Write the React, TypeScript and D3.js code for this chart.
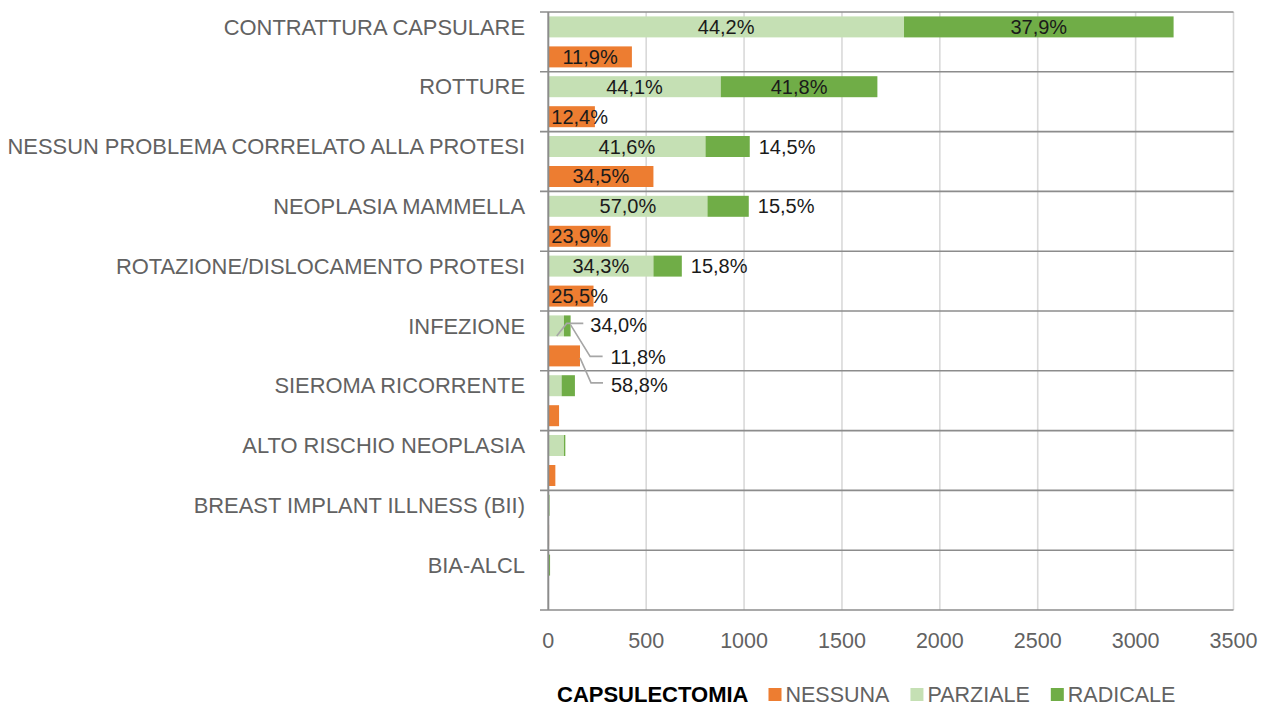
import React, { useEffect, useRef } from "react";
import * as d3 from "d3";

const categories = [
  "CONTRATTURA CAPSULARE",
  "ROTTURE",
  "NESSUN PROBLEMA CORRELATO ALLA PROTESI",
  "NEOPLASIA MAMMELLA",
  "ROTAZIONE/DISLOCAMENTO PROTESI",
  "INFEZIONE",
  "SIEROMA RICORRENTE",
  "ALTO RISCHIO NEOPLASIA",
  "BREAST IMPLANT ILLNESS (BII)",
  "BIA-ALCL",
];
const nessuna = [427, 238, 537, 318, 231, 162, 55, 36, 4, 3];
const parziale = [1817, 881, 803, 813, 537, 80, 68, 80, 6, 3];
const radicale = [1377, 800, 226, 211, 145, 34, 68, 7, 2, 6];

const nessunaLabels = ["11,9%", "12,4%", "34,5%", "23,9%", "25,5%", "58,8%", "", "", "", ""];
const parzialeLabels = ["44,2%", "44,1%", "41,6%", "57,0%", "34,3%", "34,0%", "", "", "", ""];
const radicaleLabels = ["37,9%", "41,8%", "14,5%", "15,5%", "15,8%", "11,8%", "", "", "", ""];
// placement of radicale labels: "in" = centred, "out" = right of bar, "leader" = callout
const radicalePlacement = ["in", "in", "out", "out", "out", "leader", "", "", "", ""];

const xTicks = [0, 500, 1000, 1500, 2000, 2500, 3000, 3500];
const legendTitle = "CAPSULECTOMIA";
const legendItems = ["NESSUNA", "PARZIALE", "RADICALE"];

const COLORS = { nessuna: "#ED7D31", parziale: "#C5E0B4", radicale: "#70AD47" };
const FONT = "'Liberation Sans', Arial, sans-serif";

export default function App() {
  const ref = useRef<SVGSVGElement | null>(null);

  useEffect(() => {
    const svg = d3.select(ref.current);
    svg.selectAll("*").remove();

    const x = d3.scaleLinear().domain([0, 3500]).range([548.3, 1233.5]);
    const y = d3.scaleBand<string>().domain(categories).range([12, 610]).padding(0);
    const sub = d3
      .scaleBand<string>()
      .domain(["stack", "nessuna"])
      .range([0, y.bandwidth()])
      .paddingInner(0.3)
      .paddingOuter(0.147);

    const x0 = x(0);

    // vertical gridlines
    svg
      .append("g")
      .selectAll("line")
      .data(xTicks.slice(1))
      .join("line")
      .attr("x1", (d) => x(d))
      .attr("x2", (d) => x(d))
      .attr("y1", 12)
      .attr("y2", 610)
      .attr("stroke", "#D9D9D9")
      .attr("stroke-width", 1.6);

    // horizontal category boundaries
    const bounds = categories.map((c) => y(c)!).concat([610]);
    svg
      .append("g")
      .selectAll("line")
      .data(bounds)
      .join("line")
      .attr("x1", 540)
      .attr("x2", x(3500))
      .attr("y1", (d) => d)
      .attr("y2", (d) => d)
      .attr("stroke", "#8C8C8C")
      .attr("stroke-width", 1.6);

    // bars
    const g = svg.append("g");
    categories.forEach((c, i) => {
      const yb = y(c)!;
      const ys = yb + sub("stack")!;
      const yn = yb + sub("nessuna")!;
      const h = sub.bandwidth();
      g.append("rect")
        .attr("x", x0)
        .attr("y", ys)
        .attr("width", x(parziale[i]) - x0)
        .attr("height", h)
        .attr("fill", COLORS.parziale);
      g.append("rect")
        .attr("x", x(parziale[i]))
        .attr("y", ys)
        .attr("width", x(parziale[i] + radicale[i]) - x(parziale[i]))
        .attr("height", h)
        .attr("fill", COLORS.radicale);
      g.append("rect")
        .attr("x", x0)
        .attr("y", yn)
        .attr("width", x(nessuna[i]) - x0)
        .attr("height", h)
        .attr("fill", COLORS.nessuna);
    });

    // left axis line
    svg
      .append("line")
      .attr("x1", x0)
      .attr("x2", x0)
      .attr("y1", 12)
      .attr("y2", 610)
      .attr("stroke", "#8C8C8C")
      .attr("stroke-width", 2);

    // category labels
    svg
      .append("g")
      .selectAll("text")
      .data(categories)
      .join("text")
      .attr("x", 525)
      .attr("y", (d) => y(d)! + sub("stack")! + sub.bandwidth() / 2)
      .attr("dy", "0.35em")
      .attr("text-anchor", "end")
      .attr("font-family", FONT)
      .attr("font-size", 21.9)
      .attr("fill", "#626262")
      .text((d) => d);

    // x tick labels
    svg
      .append("g")
      .selectAll("text")
      .data(xTicks)
      .join("text")
      .attr("x", (d) => x(d))
      .attr("y", 640)
      .attr("dy", "0.35em")
      .attr("text-anchor", "middle")
      .attr("font-family", FONT)
      .attr("font-size", 21.5)
      .attr("fill", "#626262")
      .text((d) => String(d));

    // data labels
    const lg = svg.append("g").attr("font-family", FONT).attr("font-size", 20).attr("fill", "#1a1a1a");
    const leaderStroke = "#A6A6A6";
    categories.forEach((c, i) => {
      const yb = y(c)!;
      const h = sub.bandwidth();
      const ys = yb + sub("stack")!;
      const yn = yb + sub("nessuna")!;
      const ysc = ys + h / 2;
      const ync = yn + h / 2;
      if (radicalePlacement[i] === "leader") {
        // parziale callout
        lg.append("polyline")
          .attr("points", `${x0 + 8.4},${ys + h - 0.5} ${x0 + 18.4},${ys + 8} ${x0 + 35},${ys + 8}`)
          .attr("fill", "none")
          .attr("stroke", leaderStroke)
          .attr("stroke-width", 1.6);
        lg.append("text").attr("x", x0 + 42).attr("y", ys + 9.5).attr("dy", "0.35em").text(parzialeLabels[i]);
        // radicale callout
        const xr = x(parziale[i] + radicale[i]);
        lg.append("polyline")
          .attr("points", `${xr},${ys + 9.5} ${xr + 19.5},${ys + 41} ${xr + 32},${ys + 41}`)
          .attr("fill", "none")
          .attr("stroke", leaderStroke)
          .attr("stroke-width", 1.6);
        lg.append("text").attr("x", xr + 40).attr("y", ys + 42).attr("dy", "0.35em").text(radicaleLabels[i]);
        // nessuna callout
        const xn = x(nessuna[i]);
        lg.append("polyline")
          .attr("points", `${xn},${yn + 12.5} ${xn + 11},${yn + 37.5} ${xn + 23},${yn + 37.5}`)
          .attr("fill", "none")
          .attr("stroke", leaderStroke)
          .attr("stroke-width", 1.6);
        lg.append("text").attr("x", xn + 31).attr("y", yn + 39.5).attr("dy", "0.35em").text(nessunaLabels[i]);
        return;
      }
      if (parzialeLabels[i]) {
        lg.append("text")
          .attr("x", (x0 + x(parziale[i])) / 2)
          .attr("y", ysc)
          .attr("dy", "0.35em")
          .attr("text-anchor", "middle")
          .text(parzialeLabels[i]);
      }
      if (radicaleLabels[i]) {
        const xa = x(parziale[i]);
        const xb = x(parziale[i] + radicale[i]);
        if (radicalePlacement[i] === "in") {
          lg.append("text")
            .attr("x", (xa + xb) / 2)
            .attr("y", ysc)
            .attr("dy", "0.35em")
            .attr("text-anchor", "middle")
            .text(radicaleLabels[i]);
        } else {
          lg.append("text").attr("x", xb + 9).attr("y", ysc).attr("dy", "0.35em").text(radicaleLabels[i]);
        }
      }
      if (nessunaLabels[i]) {
        const t = lg
          .append("text")
          .attr("y", ync)
          .attr("dy", "0.35em")
          .text(nessunaLabels[i]);
        const w = (t.node() as SVGTextElement).getComputedTextLength();
        const cx = (x0 + x(nessuna[i])) / 2;
        t.attr("x", Math.max(cx - w / 2, x0 + 3));
      }
    });

    // legend
    const leg = svg.append("g").attr("font-family", FONT).attr("font-size", 21.5);
    const ly = 694.5;
    const title = leg
      .append("text")
      .attr("x", 557)
      .attr("y", ly)
      .attr("dy", "0.35em")
      .attr("font-weight", "bold")
      .attr("font-size", 22)
      .attr("fill", "#000")
      .text(legendTitle);
    let cx = 557 + (title.node() as SVGTextElement).getComputedTextLength() + 20;
    const legColors = [COLORS.nessuna, COLORS.parziale, COLORS.radicale];
    legendItems.forEach((name, i) => {
      leg.append("rect").attr("x", cx).attr("y", ly - 6.5).attr("width", 13).attr("height", 13).attr("fill", legColors[i]);
      const t = leg
        .append("text")
        .attr("x", cx + 17)
        .attr("y", ly)
        .attr("dy", "0.35em")
        .attr("fill", "#626262")
        .text(name);
      cx = cx + 17 + (t.node() as SVGTextElement).getComputedTextLength() + 21;
    });
  }, []);

  return (
    <svg
      ref={ref}
      width={1261}
      height={708}
      style={{ position: "absolute", left: 0, top: 0, background: "#fff", display: "block" }}
    />
  );
}
